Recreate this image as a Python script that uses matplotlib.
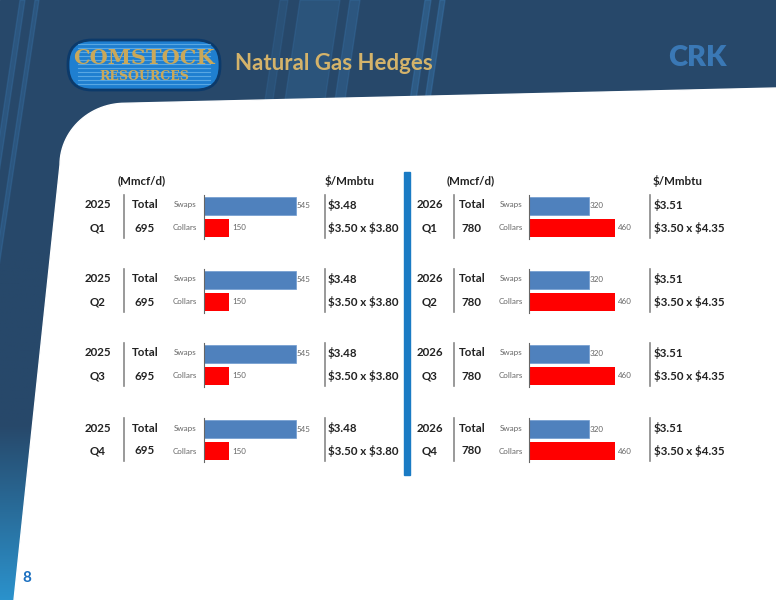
import matplotlib
matplotlib.use("Agg")
import matplotlib.pyplot as plt
from matplotlib.patches import Polygon, FancyBboxPatch, Rectangle
import matplotlib.colors as mcolors
import numpy as np

quarters = ["Q1", "Q2", "Q3", "Q4"]
years = ["2025", "2026"]
totals = [695, 780]
swaps = [[545, 545, 545, 545], [320, 320, 320, 320]]
collars = [[150, 150, 150, 150], [460, 460, 460, 460]]
swap_price = ["$3.48", "$3.51"]
collar_price = ["$3.50 x $3.80", "$3.50 x $4.35"]

W, H = 776, 600
fig = plt.figure(figsize=(7.76, 6.0), dpi=100)
ax = fig.add_axes([0, 0, 1, 1])
ax.set_xlim(0, W); ax.set_ylim(H, 0); ax.axis("off")
FONT = "Lato"
navy = "#27486a"
ax.add_patch(Rectangle((0, 0), W, H, color=navy, zorder=0))
cmap = mcolors.LinearSegmentedColormap.from_list("g", [navy, navy, "#2b92cc"])
grad = np.linspace(0, 1, 256).reshape(-1, 1)
ax.imshow(grad, extent=(0, 120, 600, 250), cmap=cmap, aspect="auto", zorder=0.4)
ax.set_xlim(0, W); ax.set_ylim(H, 0)
for x0, w, a in [(300, 40, 0.25), (350, 10, 0.3), (280, 8, 0.2), (425, 6, 0.4), (440, 5, 0.4), (20, 5, 0.3), (35, 4, 0.3)]:
    ax.add_patch(Polygon([(x0, 0), (x0 + w, 0), (x0 + w - 90, H), (x0 - 90, H)], color="#3a78b0", alpha=a, zorder=0.5))
t = np.linspace(0, np.pi / 2, 30)
cx, cy, r = 125, 165, 65
arc = [(cx - r * np.cos(a), cy - r * np.sin(a) * 0.95) for a in t]
pts = [(14, 600)] + arc + [(W, 88), (W, H)]
ax.add_patch(Polygon(pts, color="white", zorder=1))

ax.add_patch(FancyBboxPatch((68, 40), 152, 50, boxstyle="round,pad=0,rounding_size=24",
                            fc="#1f7fd0", ec="#0c3a6a", lw=2, zorder=2))
for yy in range(44, 88, 4):
    ax.plot([78, 210], [yy, yy], color="#7fc3f0", lw=0.8, alpha=0.6, zorder=2.1)
ax.text(144, 58, "COMSTOCK", family="DejaVu Serif", fontsize=15, weight="bold", color="#c9a85a",
        ha="center", va="center", zorder=3)
ax.text(144, 76, "RESOURCES", family="DejaVu Serif", fontsize=9, weight="bold", color="#c9a85a",
        ha="center", va="center", zorder=3)
ax.text(235, 63, "Natural Gas Hedges", family=FONT, fontsize=16, weight="bold", color="#d4b36a",
        va="center", zorder=3)
ax.text(697, 58, "CRK", family=FONT, fontsize=21, weight="heavy", color="#3a78b5",
        ha="center", va="center", zorder=3)
ax.text(27, 578, "8", family=FONT, fontsize=11, weight="bold", color="#1a6fc0",
        ha="center", va="center", zorder=3)

ax.add_patch(Rectangle((404, 172), 6, 303, color="#1a7bc4", zorder=2))

tk = dict(family=FONT, fontsize=8.3, weight="bold", color="#222222", va="center", zorder=3, parse_math=False)
small = dict(family=FONT, fontsize=5.8, color="#666666", va="center", zorder=3)

panels = [
    dict(yc=98, tc=145, div1=124, bar0=204, scale=0.169, div2=325, price=328, h1=142, h2=350, slab=197),
    dict(yc=430, tc=472, div1=454, bar0=529, scale=0.1875, div2=650, price=654, h1=471, h2=678, slab=523),
]
block_y = [205, 279, 353, 428]
for p, P in enumerate(panels):
    ax.text(P["h1"], 181, "(Mmcf/d)", ha="center", **tk)
    ax.text(P["h2"], 181, "$/Mmbtu", ha="center", **tk)
    for q, y in enumerate(block_y):
        ax.text(P["yc"], y, years[p], ha="center", **tk)
        ax.text(P["yc"], y + 23, quarters[q], ha="center", **tk)
        ax.text(P["tc"], y, "Total", ha="center", **tk)
        ax.text(P["tc"], y + 23, str(totals[p]), ha="center", **tk)
        ax.plot([P["div1"], P["div1"]], [y - 10, y + 33], color="#888888", lw=1.2, zorder=3)
        ax.plot([P["div2"], P["div2"]], [y - 10, y + 33], color="#888888", lw=1.2, zorder=3)
        ax.text(P["price"], y, swap_price[p], ha="left", **tk)
        ax.text(P["price"], y + 23, collar_price[p], ha="left", **tk)
        ax.text(P["slab"], y, "Swaps", ha="right", **small)
        ax.text(P["slab"], y + 23, "Collars", ha="right", **small)
        wpx = P["scale"] * 600
        top = y - 10
        bax = fig.add_axes([P["bar0"] / W, 1 - (top + 44) / H, wpx / W, 44 / H])
        bax.set_xlim(0, 600); bax.set_ylim(1.5, -0.5)
        bax.barh([0], [swaps[p][q]], height=0.82, color="#4f81bd", edgecolor="#6f9ad0", lw=0.5)
        bax.barh([1], [collars[p][q]], height=0.82, color="#ff0000")
        bax.text(swaps[p][q] + 4, 0, str(swaps[p][q]), ha="left", **small)
        bax.text(collars[p][q] + 15, 1, str(collars[p][q]), ha="left", **small)
        bax.set_xticks([]); bax.set_yticks([])
        for s in ["top", "right", "bottom"]:
            bax.spines[s].set_visible(False)
        bax.spines["left"].set_color("#666666")
        bax.patch.set_alpha(0)

fig.savefig("out.png", dpi=100)
